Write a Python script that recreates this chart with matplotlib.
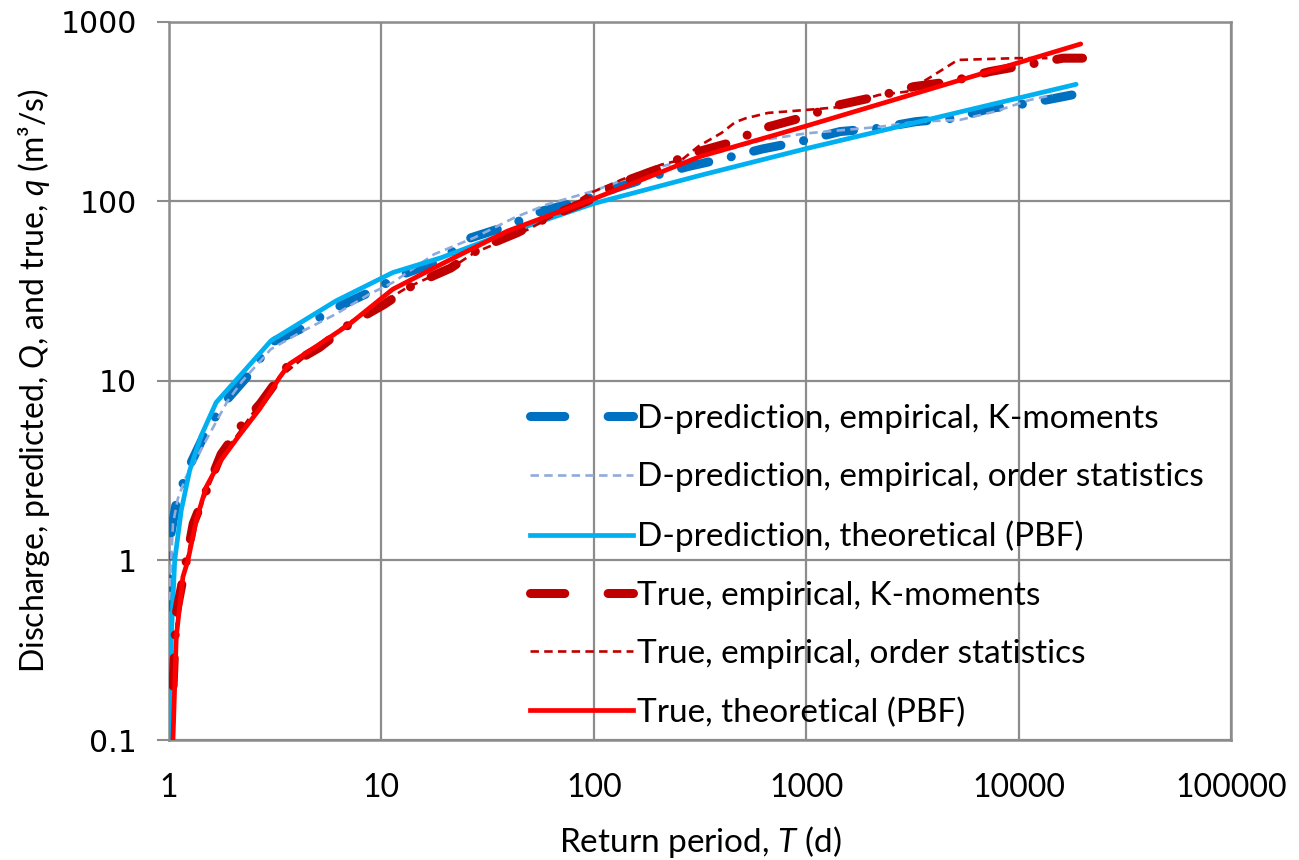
import matplotlib
matplotlib.use("Agg")
import matplotlib.pyplot as plt
from matplotlib.lines import Line2D
import numpy as np

plt.rcParams['font.family'] = ['Lato', 'DejaVu Sans']
plt.rcParams['mathtext.fontset'] = 'custom'
plt.rcParams['mathtext.rm'] = 'Lato'
plt.rcParams['mathtext.it'] = 'Lato:italic'

# ---------------- data ----------------
# D-prediction, empirical, K-moments
dk_T = [1.003, 1.01, 1.02, 1.08, 1.23, 1.49, 1.83, 2.39, 3.02, 4.2, 5.9, 8.7, 12.6, 18.7,
        26.4, 39.2, 57, 86.6, 128, 191, 279, 423, 620, 940, 1446, 2158, 3280, 4890,
        7430, 11300, 17830]
dk_q = [0.55, 1.0, 1.4, 2.07, 3.23, 5.2, 7.6, 10.9, 16.3, 19.5, 25, 30.9, 39.1, 46.4,
        62.5, 72.6, 88, 100, 118.6, 138, 156, 174, 195, 215, 244, 254, 277, 289,
        329, 351, 390]

# D-prediction, empirical, order statistics
do_T = [1.003, 1.044, 1.1, 1.2, 1.47, 1.89, 2.22, 3.02, 4.26, 6.1, 8.75, 11.3, 17.7, 27.3,
        42.1, 60.3, 100, 195, 400, 627, 989, 2198, 3342, 5275, 7720, 11300, 14460]
do_q = [0.6, 1.6, 2.2, 2.9, 4.5, 7.74, 10, 15, 18.9, 23.5, 30.3, 35.2, 50.6, 62.5,
        80.7, 95.9, 114, 153, 189, 219, 238, 259, 277, 283, 315, 366, 390]

# D-prediction, theoretical (PBF)
dt_T = [1.0076, 1.025, 1.064, 1.142, 1.251, 1.418, 1.667, 2.27, 3.02, 6.10, 11.3, 19.1,
        39.2, 100, 316, 1000, 18660]
dt_q = [0.1, 0.375, 1.0, 1.90, 3.16, 4.95, 7.57, 11.4, 16.7, 27.8, 40.0, 48.4,
        66.7, 97, 139, 196, 447]

# True, empirical, K-moments
tk_T = [1.045, 1.08, 1.2, 1.3, 1.5, 1.76, 2.22, 2.7, 3.62, 5.1, 7.05, 10.3, 14.3, 21.2,
        29.4, 43.6, 62.6, 93, 133, 198, 279, 430, 630, 940, 1419, 2158, 3212, 4800,
        7300, 10860, 16200, 20000]
tk_q = [0.2, 0.5, 0.96, 1.6, 2.45, 3.9, 5.75, 7.5, 12.1, 15.3, 20.6, 26.6, 34.5, 42.4,
        55, 66.7, 82.5, 100, 126, 150, 182, 210, 255, 290, 343, 382, 434, 463,
        526, 573, 625, 625]

# True, empirical, order statistics
to_T = [1.05, 1.1, 1.2, 1.3, 1.5, 1.75, 2.2, 2.7, 3.3, 4, 5, 7, 10, 13.2, 22, 27.3, 45,
        70, 94.6, 136, 209, 260, 311, 400, 463, 518, 663, 824, 1138, 1393, 2198, 2980,
        3890, 5176, 9700, 13670]
to_q = [0.2, 0.6, 0.95, 1.5, 2.4, 3.7, 5.4, 7.6, 10.4, 12.5, 15.5, 21, 27, 33, 43.5, 51.5, 66,
        87, 110, 132, 160, 170, 202, 240, 275, 289, 310, 316, 326, 333, 390, 407,
        494, 611, 625, 625]

# True, theoretical (PBF)
tt_T = [1.044, 1.082, 1.163, 1.228, 1.343, 1.496, 1.73, 2.11, 2.67, 3.31, 3.69, 5, 7.05,
        11.3, 19.1, 39.2, 100, 316, 1000, 3162, 10000, 19620]
tt_q = [0.1, 0.375, 0.81, 1.0, 1.67, 2.56, 3.52, 4.85, 6.96, 10.4, 12.4, 15.7, 20.6,
        32.3, 44.5, 68.1, 103, 177, 262, 393, 590, 750]

labels = ["D-prediction, empirical, K-moments",
          "D-prediction, empirical, order statistics",
          "D-prediction, theoretical (PBF)",
          "True, empirical, K-moments",
          "True, empirical, order statistics",
          "True, theoretical (PBF)"]

x_ticks = [1, 10, 100, 1000, 10000, 100000]
x_ticklabels = ["1", "10", "100", "1000", "10000", "100000"]
y_ticks = [0.1, 1, 10, 100, 1000]
y_ticklabels = ["0.1", "1", "10", "100", "1000"]

# ---------------- styles ----------------
c_dk = '#0070C0'
c_do = '#8FAADC'
c_dt = '#00B0F0'
c_tk = '#C00000'
c_to = '#C00000'
c_tt = '#FF0000'

lw_k = 6.5
lw_o = 1.9
lw_t = 3.4
k_dash = (3.1, 2.55, 0.01, 2.55)
o_dash = (3.2, 2.0)

fig = plt.figure(figsize=(12.99, 8.60), dpi=100)
ax = fig.add_axes([169 / 1299, (860 - 740) / 860, (1231 - 169) / 1299, (740 - 21.5) / 860])

ax.plot(dk_T, dk_q, color=c_dk, lw=lw_k, dashes=k_dash, dash_capstyle='round',
        solid_capstyle='round', zorder=3)
ax.plot(do_T, do_q, color=c_do, lw=lw_o, dashes=o_dash, zorder=4)
ax.plot(dt_T, dt_q, color=c_dt, lw=lw_t, solid_capstyle='round', zorder=5)
ax.plot(tk_T, tk_q, color=c_tk, lw=lw_k, dashes=k_dash, dash_capstyle='round',
        solid_capstyle='round', zorder=6)
ax.plot(to_T, to_q, color=c_to, lw=lw_o, dashes=o_dash, zorder=7)
ax.plot(tt_T, tt_q, color=c_tt, lw=lw_t, solid_capstyle='round', zorder=8)

ax.set_xscale('log')
ax.set_yscale('log')
ax.set_xlim(1, 100000)
ax.set_ylim(0.1, 1000)

ax.set_xticks(x_ticks)
ax.set_xticklabels(x_ticklabels, fontsize=23, family=['Lato'])
ax.set_yticks(y_ticks)
ax.set_yticklabels(y_ticklabels, fontsize=21.5, family=['DejaVu Sans'])
ax.minorticks_off()
ax.tick_params(axis='x', length=0, pad=24)
ax.tick_params(axis='y', length=9, width=1.5, color='#8c8c8c', pad=14)

grid_c = '#8c8c8c'
ax.grid(True, which='major', color=grid_c, lw=1.6)
ax.set_axisbelow(True)
for s in ax.spines.values():
    s.set_color(grid_c)
    s.set_linewidth(1.8)

ax.set_xlabel(r"Return period, $\mathit{T}$ (d)", fontsize=24, labelpad=15)
ax.set_ylabel(r"Discharge, predicted, $\mathit{Q}$, and true, $\mathit{q}$ (m³/s)",
              fontsize=23, labelpad=6)

# legend proxies
leg_k_dash = (3.8, 4.8)
handles = [
    Line2D([], [], color=c_dk, lw=lw_k, dashes=leg_k_dash, dash_capstyle='round'),
    Line2D([], [], color=c_do, lw=lw_o, dashes=o_dash),
    Line2D([], [], color=c_dt, lw=lw_t),
    Line2D([], [], color=c_tk, lw=lw_k, dashes=leg_k_dash, dash_capstyle='round'),
    Line2D([], [], color=c_to, lw=lw_o, dashes=o_dash),
    Line2D([], [], color=c_tt, lw=lw_t),
]
leg = ax.legend(handles, labels, loc='upper left',
                bbox_to_anchor=((530 - 169) / (1231 - 169), (740 - 404) / (740 - 21.5)),
                frameon=False, fontsize=24, handlelength=3.1, handletextpad=0.12,
                labelspacing=0.85, borderaxespad=0, borderpad=0)

fig.savefig("out.png", dpi=100)
